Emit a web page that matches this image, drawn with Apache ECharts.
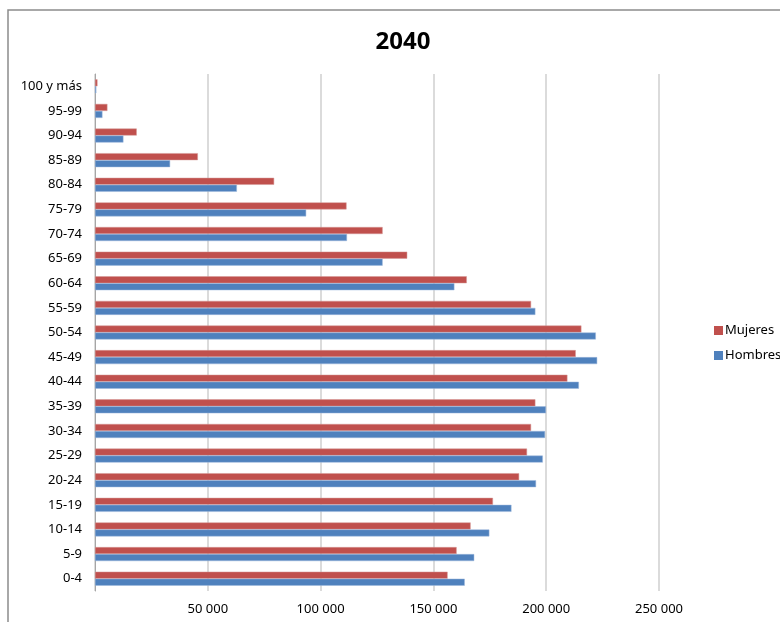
<!DOCTYPE html>
<html>
<head>
<meta charset="utf-8">
<script src="https://cdn.jsdelivr.net/npm/echarts@6/dist/echarts.min.js"></script>
<style>
  html, body { margin: 0; padding: 0; background: #fff; }
  #chart { width: 780px; height: 622px; }
</style>
</head>
<body>
<div id="chart"></div>
<script>
// Population pyramid for 2040, both sexes drawn on the positive side.
const ageGroups = ['0-4', '5-9', '10-14', '15-19', '20-24', '25-29', '30-34', '35-39',
  '40-44', '45-49', '50-54', '55-59', '60-64', '65-69', '70-74', '75-79', '80-84',
  '85-89', '90-94', '95-99', '100 y más'];

const mujeres = [156300, 160300, 166500, 176400, 188000, 191500, 193300, 195200,
  209400, 213100, 215600, 193300, 164800, 138400, 127500, 111500, 79400,
  45600, 18500, 5500, 1100];

const hombres = [163900, 168100, 174800, 184600, 195500, 198500, 199500, 199900,
  214500, 222600, 222000, 195200, 159300, 127500, 111700, 93600, 62900,
  33300, 12600, 3300, 600];

const xTicks = { min: 0, max: 250000, interval: 50000 };

const FONT = '"Noto Sans", sans-serif';
const RED = '#C0504D';
const BLUE = '#4F81BD';

const fmt = (v) => (v === 0 ? '' : String(v).replace(/\B(?=(\d{3})+(?!\d))/g, ' '));

const chart = echarts.init(document.getElementById('chart'));
chart.setOption({
  backgroundColor: '#fff',
  animation: false,
  title: {
    text: '2040',
    left: 398,
    top: 25,
    textAlign: 'center',
    textStyle: { fontFamily: FONT, fontSize: 24, fontWeight: 'bold', color: '#000' },
  },
  graphic: [
    {
      type: 'rect',
      shape: { x: 8, y: 10, width: 800, height: 640 },
      style: { fill: null, stroke: '#8c8c8c', lineWidth: 1.5 },
      silent: true,
    },
  ],
  legend: {
    orient: 'vertical',
    left: 709,
    top: 319,
    itemWidth: 9,
    itemHeight: 9,
    itemGap: 12,
    icon: 'rect',
    data: ['Mujeres', 'Hombres'],
    itemStyle: { borderWidth: 0 },
    textStyle: { fontFamily: FONT, fontSize: 13, color: '#000', padding: [0, 0, 0, -3] },
  },
  grid: { left: 95, right: 121, top: 74, bottom: 31, containLabel: false },
  xAxis: {
    type: 'value',
    min: xTicks.min,
    max: xTicks.max,
    interval: xTicks.interval,
    axisLine: { show: false },
    axisTick: { show: false },
    axisLabel: { formatter: fmt, fontFamily: FONT, fontSize: 13, color: '#000', margin: 12 },
    splitLine: { lineStyle: { color: '#cfcfcf', width: 1.5 } },
  },
  yAxis: {
    type: 'category',
    data: ageGroups,
    axisLine: { show: true, lineStyle: { color: '#a6a6a6', width: 1 } },
    axisTick: { show: false },
    axisLabel: { fontFamily: FONT, fontSize: 13, color: '#000', margin: 13 },
  },
  series: [
    {
      name: 'Mujeres',
      type: 'bar',
      data: mujeres,
      barWidth: 7,
      barGap: '0%',
      itemStyle: { color: RED, borderColor: '#d49896', borderWidth: 0.5 },
    },
    {
      name: 'Hombres',
      type: 'bar',
      data: hombres,
      barWidth: 7,
      barGap: '0%',
      itemStyle: { color: BLUE, borderColor: '#9fb9dc', borderWidth: 0.5 },
    },
  ],
});
</script>
</body>
</html>
